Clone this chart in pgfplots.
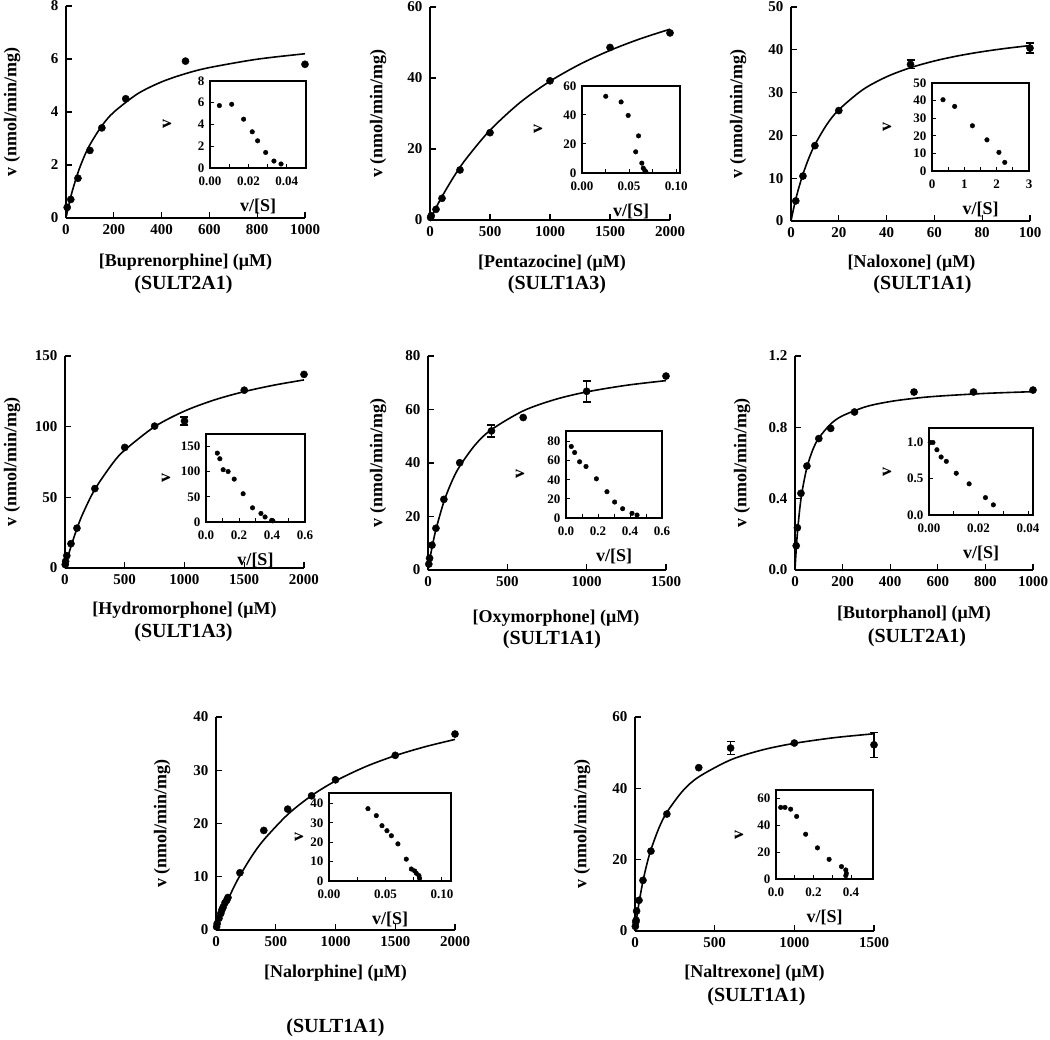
\documentclass[border=0pt]{standalone}
\usepackage{fontspec}
\setmainfont{Liberation Serif}
\usepackage{pgfplots}
\pgfplotsset{compat=1.18}
\newcommand\fs[1]{\fontsize{#1}{#1}\selectfont}

\pgfplotsset{
  base/.style={scale only axis, anchor=south west, xmin=0, ymin=0,
    tick align=inside, scaled ticks=false, clip=false,
    /pgf/number format/assume math mode=true, /pgf/number format/1000 sep={}},
  main/.style={base, axis x line*=bottom, axis y line*=left,
    axis line style={line width=1.5pt},
    every tick/.style={black, line width=1.3pt}, major tick length=6pt,
    tick label style={font=\bfseries\fs{15}},
    xticklabel shift=3pt, yticklabel shift=4pt},
  inset/.style={base, xtick pos=left, ytick pos=left,
    axis line style={line width=1.3pt},
    every tick/.style={black, line width=1pt}, major tick length=4pt,
    minor tick length=4pt, minor x tick num=1,
    tick label style={font=\bfseries\fs{13}},
    xticklabel shift=5pt, yticklabel shift=2pt,
    axis background/.style={fill=white}},
  dat/.style={black, only marks, mark=*, mark size=3.6pt},
  idat/.style={black, only marks, mark=*, mark size=2.3pt},
  fit/.style={black, no markers, smooth, line width=1.6pt},
  ebar/.style={dat, error bars/.cd, y dir=both, y explicit,
    error bar style={line width=1.6pt},
    error mark options={rotate=90, line width=1.6pt, mark size=4pt}},
  dec1/.style={/pgf/number format/.cd, fixed, fixed zerofill, precision=1},
  dec2/.style={/pgf/number format/.cd, fixed, fixed zerofill, precision=2},
}
% axis labels, placed by offsets from the axis box
\newcommand\xlab[3]{\node[font=\bfseries\fs{18}, xshift=#2, yshift=-#1] at (rel axis cs:0.5,0) {#3};}
\newcommand\enz[3]{\node[font=\bfseries\fs{20}, xshift=#2, yshift=-#1] at (rel axis cs:0.5,0) {#3};}
\newcommand\ylab[1]{\node[font=\bfseries\fs{18}, xshift=-#1, rotate=90] at (rel axis cs:0,0.5) {v (nmol/min/mg)};}
\newcommand\ilab[1]{%
  \node[font=\bfseries\fs{18}, xshift=-#1, rotate=90] at (rel axis cs:0,0.5) {v};
  \node[font=\bfseries\fs{18}, yshift=-38pt] at (rel axis cs:0.5,0) {v/[S]};}

\begin{document}
\begin{tikzpicture}
\useasboundingbox (0pt,0pt) rectangle (1050pt,-1040pt);

% ---------- Buprenorphine (SULT2A1)
\begin{axis}[main, at={(66pt,-218pt)}, width=239pt, height=212pt,
  xmax=1000, ymax=8, xtick={0,200,...,1000}, ytick={0,2,...,8}]
\addplot[fit] coordinates {(2,0.089) (10,0.423) (25,0.972) (50,1.712) (75,2.295) (100,2.765) (150,3.479) (200,3.994) (300,4.689) (400,5.136) (500,5.447) (600,5.676) (800,5.992) (1000,6.198)};
\addplot[dat] coordinates {(5,0.4) (20,0.7) (50,1.5) (100,2.55) (150,3.4) (250,4.5) (500,5.92) (1000,5.8)};
\ylab{54pt}
\xlab{44pt}{0pt}{[Buprenorphine] (μM)}
\enz{67pt}{-2pt}{(SULT2A1)}
\end{axis}
\begin{axis}[inset, at={(210pt,-168pt)}, width=96pt, height=87pt,
  xmax=0.05, ymax=8, xtick={0,0.02,0.04}, ytick={0,2,...,8},
  xticklabel style={dec2}]
\addplot[idat] coordinates {(0.0049,5.74) (0.0113,5.86) (0.0175,4.49) (0.022,3.33) (0.0248,2.5) (0.029,1.43) (0.0333,0.64) (0.037,0.37)};
\ilab{43pt}
\end{axis}

% ---------- Pentazocine (SULT1A3)
\begin{axis}[main, at={(430pt,-220pt)}, width=240pt, height=213pt,
  xmax=2000, ymax=60, xtick={0,500,...,2000}, ytick={0,20,...,60}]
\addplot[fit] coordinates {(0,0) (25,1.755) (50,3.44) (100,6.615) (200,12.286) (300,17.2) (500,25.29) (750,33.08) (1000,39.09) (1250,43.88) (1500,47.78) (1750,51.02) (2000,53.75)};
\addplot[dat] coordinates {(5,0.7) (10,1.2) (50,3.0) (100,6.1) (250,14.1) (500,24.6) (1000,39.2) (1500,48.6) (2000,52.7)};
\ylab{52pt}
\xlab{43pt}{2pt}{[Pentazocine] (μM)}
\enz{65pt}{7pt}{(SULT1A3)}
\end{axis}
\begin{axis}[inset, at={(582pt,-173pt)}, width=98pt, height=87pt,
  xmax=0.104, ymax=60, xtick={0,0.05,0.1}, ytick={0,20,...,60},
  xticklabel style={dec2}]
\addplot[idat] coordinates {(0.0252,52.9) (0.0415,49.0) (0.049,39.7) (0.060,25.6) (0.057,14.6) (0.0635,6.8) (0.065,3.4) (0.0667,1.6) (0.0677,0.9)};
\ilab{44pt}
\end{axis}

% ---------- Naloxone (SULT1A1)
\begin{axis}[main, at={(791pt,-221pt)}, width=239pt, height=214pt,
  xmax=100, ymax=50, xtick={0,20,...,100}, ytick={0,10,...,50}]
\addplot[fit] coordinates {(0,0) (1,2.682) (2,5.080) (3,7.236) (5,10.956) (7.5,14.75) (10,17.83) (15,22.55) (20,25.99) (30,30.67) (40,33.70) (50,35.82) (60,37.39) (70,38.60) (80,39.56) (90,40.34) (100,40.99)};
\addplot[dat] coordinates {(2,4.7) (5,10.5) (10,17.6) (20,25.8)};
\addplot[ebar] coordinates {(50,36.6) +- (0,1.0) (100,40.4) +- (0,1.2)};
\ylab{53pt}
\xlab{42pt}{1pt}{[Naloxone] (μM)}
\enz{64pt}{12pt}{(SULT1A1)}
\end{axis}
\begin{axis}[inset, at={(932pt,-171pt)}, width=97pt, height=88pt,
  xmax=3, ymax=50, xtick={0,1,2,3}, ytick={0,10,...,50}]
\addplot[idat] coordinates {(0.34,40.5) (0.70,36.7) (1.25,25.7) (1.70,17.7) (2.07,10.6) (2.25,4.9)};
\ilab{45pt}
\end{axis}

% ---------- Hydromorphone (SULT1A3)
\begin{axis}[main, at={(65pt,-568pt)}, width=239pt, height=212pt,
  xmax=2000, ymax=150, xtick={0,500,...,2000}, ytick={0,50,...,150}]
\addplot[fit] coordinates {(0,0) (10,3.287) (25,7.981) (50,15.23) (100,27.90) (150,38.60) (250,55.70) (400,74.19) (500,83.42) (750,100.0) (1000,111.04) (1250,118.91) (1500,124.81) (1750,129.40) (2000,133.07)};
\addplot[dat] coordinates {(2,2.4) (5,4.7) (15,8.7) (50,17.2) (100,28.2) (250,56.2) (500,85.3) (750,100.4) (1500,125.8) (2000,137)};
\addplot[ebar] coordinates {(1000,104) +- (0,2.7)};
\ylab{53pt}
\xlab{42pt}{0pt}{[Hydromorphone] (μM)}
\enz{65pt}{-1pt}{(SULT1A3)}
\end{axis}
\begin{axis}[inset, at={(206pt,-522pt)}, width=99pt, height=88pt,
  xmax=0.6, ymax=175, xtick={0,0.2,0.4,0.6}, ytick={0,50,100,150},
  xticklabel style={dec1}]
\addplot[idat] coordinates {(0.0685,137) (0.0839,125.8) (0.104,104) (0.134,100.4) (0.171,85.3) (0.225,56.2) (0.282,28.2) (0.333,17) (0.358,10) (0.398,3.3) (0.405,2.4)};
\ilab{40pt}
\end{axis}

% ---------- Oxymorphone (SULT1A1)
\begin{axis}[main, at={(428pt,-570pt)}, width=238pt, height=214pt,
  xmax=1500, ymax=80, xtick={0,500,...,1500}, ytick={0,20,...,80}]
\addplot[fit] coordinates {(0,0) (5,1.82) (10,3.56) (25,8.35) (50,15.14) (100,25.52) (150,33.07) (200,38.82) (300,46.98) (400,52.50) (600,59.49) (800,63.73) (1000,66.58) (1250,69.05) (1500,70.80)};
\addplot[dat] coordinates {(5,2.2) (10,4.4) (25,9.3) (50,15.6) (100,26.4) (200,40.1) (600,57) (1500,72.5)};
\addplot[ebar] coordinates {(400,52) +- (0,2.2) (1000,66.8) +- (0,3.9)};
\ylab{50pt}
\xlab{48pt}{9pt}{[Oxymorphone] (μM)}
\enz{70pt}{5pt}{(SULT1A1)}
\end{axis}
\begin{axis}[inset, at={(566pt,-518pt)}, width=96pt, height=87pt,
  xmax=0.6, ymax=91, xtick={0,0.2,0.4,0.6}, ytick={0,20,...,80},
  xticklabel style={dec1}]
\addplot[idat] coordinates {(0.033,74.8) (0.054,68.5) (0.085,58.8) (0.125,53.9) (0.19,41) (0.256,27.5) (0.304,16.7) (0.354,9.7) (0.4125,4.9) (0.444,3.1)};
\ilab{46pt}
\end{axis}

% ---------- Butorphanol (SULT2A1)
\begin{axis}[main, at={(795pt,-570pt)}, width=238pt, height=214pt,
  xmax=1000, ymax=1.2, xtick={0,200,...,1000}, ytick={0,0.4,0.8,1.2},
  yticklabel style={dec1}]
\addplot[fit] coordinates {(0,0) (2,0.0489) (5,0.1141) (10,0.2057) (20,0.3434) (30,0.4422) (50,0.5743) (75,0.6751) (100,0.7401) (150,0.8189) (200,0.8650) (300,0.9166) (400,0.9447) (500,0.9624) (600,0.9747) (800,0.9903) (1000,1.0000)};
\addplot[dat] coordinates {(5,0.136) (10,0.237) (25,0.43) (50,0.583) (100,0.737) (150,0.794) (250,0.886) (500,0.998) (750,0.998) (1000,1.009)};
\ylab{53pt}
\xlab{44pt}{0pt}{[Butorphanol] (μM)}
\enz{68pt}{3pt}{(SULT2A1)}
\end{axis}
\begin{axis}[inset, at={(929pt,-515pt)}, width=104pt, height=87pt,
  xmax=0.042, ymax=1.2, xtick={0,0.02,0.04}, ytick={0,0.5,1},
  xticklabel style={dec2}, yticklabel style={dec1}]
\addplot[idat] coordinates {(0.0005,1.0) (0.0016,1.0) (0.0032,0.90) (0.0049,0.80) (0.007,0.74) (0.011,0.576) (0.0162,0.43) (0.0228,0.24) (0.026,0.14)};
\ilab{42pt}
\end{axis}

% ---------- Nalorphine (SULT1A1)
\begin{axis}[main, at={(216pt,-930pt)}, width=239pt, height=213pt,
  xmax=2000, ymax=40, xtick={0,500,...,2000}, ytick={0,10,...,40}]
\addplot[fit] coordinates {(0,0) (10,0.634) (25,1.556) (50,3.017) (100,5.688) (150,8.069) (200,10.206) (300,13.88) (400,16.93) (600,21.69) (800,25.24) (1000,27.99) (1250,30.66) (1500,32.75) (1750,34.42) (2000,35.79)};
\addplot[dat] coordinates {(5,0.6) (10,1.2) (25,2.2) (40,3.1) (50,3.8) (60,4.3) (75,5.1) (90,5.6) (100,6.1) (200,10.75) (400,18.7) (600,22.7) (800,25.2) (1000,28.2) (1500,32.8) (2000,36.8)};
\ylab{54pt}
\xlab{43pt}{0pt}{[Nalorphine] (μM)}
\enz{98pt}{0pt}{(SULT1A1)}
\end{axis}
\begin{axis}[inset, at={(329pt,-881pt)}, width=122pt, height=88pt,
  xmax=0.108, ymax=45.5, xtick={0,0.05,0.1}, ytick={0,10,...,40},
  xticklabel style={dec2}]
\addplot[idat] coordinates {(0.0345,37.4) (0.0419,33.8) (0.0469,28.6) (0.0513,26.0) (0.0552,23.4) (0.061,19.2) (0.0684,11.3) (0.0729,6.2) (0.0758,5.2) (0.0773,4.0) (0.0796,2.8) (0.0802,1.4)};
\ilab{30pt}
\end{axis}

% ---------- Naltrexone (SULT1A1)
\begin{axis}[main, at={(635pt,-931pt)}, width=239pt, height=214pt,
  xmax=1500, ymax=60, xtick={0,500,...,1500}, ytick={0,20,...,60}]
\addplot[fit] coordinates {(0,0) (5,1.759) (10,3.421) (25,7.894) (50,13.99) (75,18.85) (100,22.80) (150,28.86) (200,33.28) (300,39.30) (400,43.21) (600,47.98) (800,50.78) (1000,52.62) (1250,54.20) (1500,55.30)};
\addplot[dat] coordinates {(2,1.3) (5,2.5) (7,3.0) (10,5.6) (25,8.6) (50,14.2) (100,22.4) (200,32.8) (400,45.8) (1000,52.7)};
\addplot[ebar] coordinates {(600,51.3) +- (0,1.8) (1500,52.2) +- (0,3.5)};
\ylab{53pt}
\xlab{42pt}{0pt}{[Naltrexone] (μM)}
\enz{66pt}{2pt}{(SULT1A1)}
\end{axis}
\begin{axis}[inset, at={(776pt,-879pt)}, width=97pt, height=89pt,
  xmax=0.517, ymax=66, xtick={0,0.2,0.4}, ytick={0,20,...,60},
  xticklabel style={dec1}]
\addplot[idat] coordinates {(0.025,53.1) (0.048,53.1) (0.078,51.8) (0.11,46.4) (0.158,33.2) (0.221,23.1) (0.283,14.6) (0.349,9.2) (0.372,6.7) (0.375,4.2) (0.372,2.5)};
\ilab{37pt}
\end{axis}
\end{tikzpicture}
\end{document}
